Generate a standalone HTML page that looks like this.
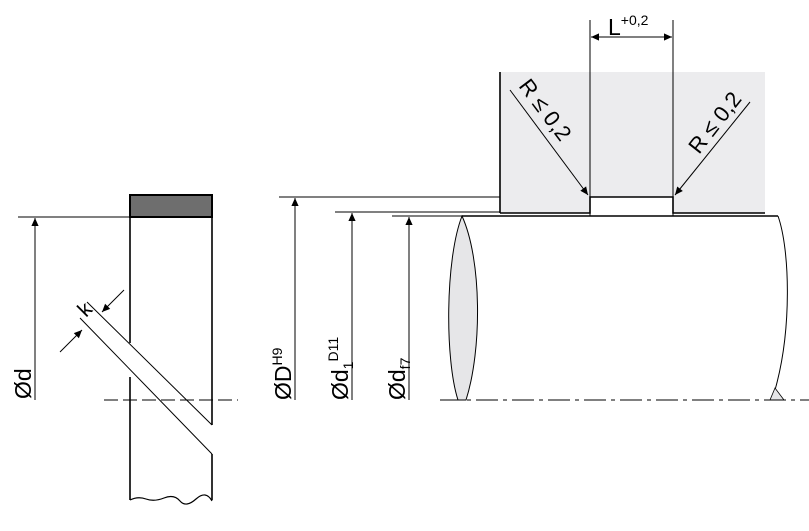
<!DOCTYPE html>
<html><head><style>body{margin:0;background:#fff}svg{display:block}text{font-family:"Liberation Sans",sans-serif;fill:#000}</style></head><body>
<svg width="809" height="531" viewBox="0 0 809 531" xmlns="http://www.w3.org/2000/svg">
<defs><marker id="a" viewBox="0 0 10 10" refX="10" refY="5" markerWidth="17" markerHeight="8" markerUnits="userSpaceOnUse" orient="auto"><path d="M0,0.5 L10,5 L0,9.5z" fill="#000"/></marker></defs>
<g stroke="#000" fill="none" stroke-width="1">
<rect x="130" y="195" width="82" height="22" fill="#6e6e6e" stroke-width="2"/>
<line x1="18" y1="217" x2="130" y2="217"/>
<line x1="35" y1="400" x2="35" y2="218" marker-end="url(#a)"/>
<line x1="130" y1="217" x2="130" y2="343" stroke-width="1.6"/>
<line x1="130" y1="377" x2="130" y2="500" stroke-width="1.6"/>
<line x1="212" y1="217" x2="212" y2="425" stroke-width="1.6"/>
<line x1="212" y1="454" x2="212" y2="500" stroke-width="1.6"/>
<path d="M130,500 q8,-4 16,-1 t18,-1 t16,3 t16,-2 t16,2" stroke-width="1.2"/>
<line x1="87" y1="302" x2="212" y2="425"/>
<line x1="80" y1="318" x2="212" y2="454"/>
<line x1="124" y1="290" x2="102" y2="312" marker-end="url(#a)"/>
<line x1="60" y1="352" x2="82" y2="330" marker-end="url(#a)"/>
<line x1="104" y1="400" x2="238" y2="400" stroke-dasharray="14,5"/>
<rect x="500" y="72" width="265" height="141" fill="#ececee" stroke="none"/>
<rect x="590" y="197" width="83" height="19" fill="#fff" stroke="none"/>
<line x1="500" y1="72" x2="500" y2="213" stroke-width="1.6"/>
<polyline points="500,213 590,213 590,197 673,197 673,213 765,213" stroke-width="1.6"/>
<line x1="590" y1="20" x2="590" y2="216"/>
<line x1="673" y1="20" x2="673" y2="216"/>
<line x1="631" y1="37" x2="591" y2="37" marker-end="url(#a)"/>
<line x1="631" y1="37" x2="672" y2="37" marker-end="url(#a)"/>
<line x1="510" y1="90" x2="588" y2="195" marker-end="url(#a)"/>
<line x1="750" y1="102" x2="675" y2="195" marker-end="url(#a)"/>
<line x1="279" y1="197" x2="500" y2="197"/>
<line x1="335" y1="212" x2="500" y2="212"/>
<line x1="392" y1="216" x2="462" y2="216"/>
<line x1="295" y1="400" x2="295" y2="198" marker-end="url(#a)"/>
<line x1="352" y1="400" x2="352" y2="213" marker-end="url(#a)"/>
<line x1="409" y1="400" x2="409" y2="217" marker-end="url(#a)"/>
<line x1="462" y1="216" x2="778" y2="216" stroke-width="1.6"/>
<path d="M462,216 C445,260 445,360 458,400 L466,400 C482,350 482,260 462,216z" fill="#e6e6e8"/>
<path d="M778,216 C790,250 792,330 775,390"/>
<path d="M775,388 L770,400 L784,400z" fill="#e6e6e8" stroke-width="0.8"/>
<line x1="440" y1="400" x2="809" y2="400" stroke-dasharray="22,5,4,5"/>
</g>
<text x="31" y="399" font-size="23" transform="rotate(-90 31 399)">Ød</text>
<text x="86" y="318" font-size="21" transform="rotate(-45 86 318)">k</text>
<text x="291" y="400" font-size="23" transform="rotate(-90 291 400)">ØD<tspan font-size="14" dy="-9">H9</tspan></text>
<text x="348" y="400" font-size="23" transform="rotate(-90 348 400)">Ød<tspan font-size="14" dy="5">1</tspan><tspan font-size="14" dy="-15">D11</tspan></text>
<text x="405" y="400" font-size="23" transform="rotate(-90 405 400)">Ød<tspan font-size="14" dy="5">f7</tspan></text>
<text x="608" y="35" font-size="23">L<tspan font-size="14" dy="-10">+0,2</tspan></text>
<text x="518" y="86" font-size="22" transform="rotate(53 518 86)">R ≤ 0,2</text>
<text x="699" y="155" font-size="22" transform="rotate(-52 699 155)">R ≤ 0,2</text>
</svg>
</body></html>
